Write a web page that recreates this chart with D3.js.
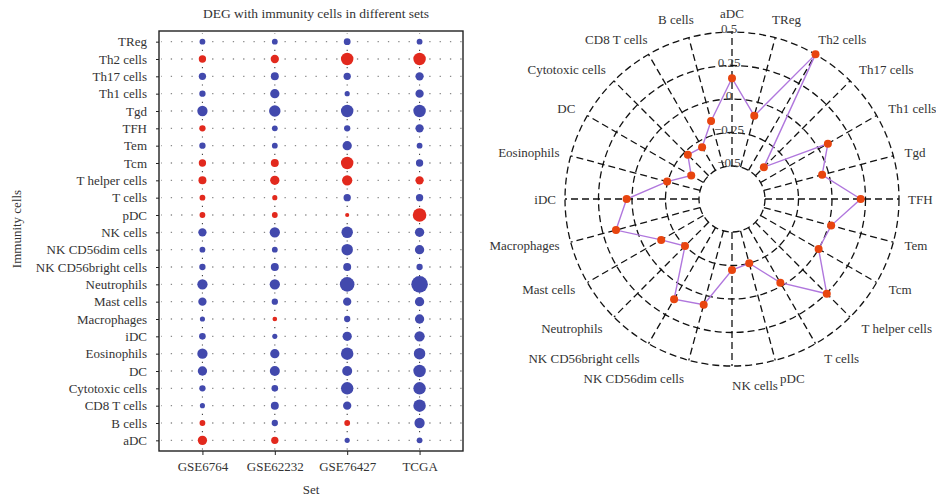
<!DOCTYPE html>
<html>
<head>
<meta charset="utf-8">
<script src="https://cdn.jsdelivr.net/npm/d3@7"></script>
<style>
  body { margin: 0; background: #fff; }
  svg { font-family: "Liberation Serif", "DejaVu Serif", serif; }
  .axis path { display: none; }
  .axis line { stroke: #222; }
  .axis text { font-size: 13px; fill: #333; font-family: "Liberation Serif", serif; }
</style>
</head>
<body>
<svg id="chart" width="936" height="502"></svg>
<script>
// cells, bottom-to-top on the bubble chart, counter-clockwise on the radar
let cells = ['aDC', 'B cells', 'CD8 T cells', 'Cytotoxic cells', 'DC', 'Eosinophils', 'iDC',
	'Macrophages', 'Mast cells', 'Neutrophils', 'NK CD56bright cells', 'NK CD56dim cells',
	'NK cells', 'pDC', 'T cells', 'T helper cells', 'Tcm', 'Tem', 'TFH', 'Tgd', 'Th1 cells',
	'Th17 cells', 'Th2 cells', 'TReg']

let sets = ['GSE6764', 'GSE62232', 'GSE76427', 'TCGA']

// signed association per set, same order as cells (positive = red, negative = blue)
let gse6764 = [0.56, 0.35, -0.31, -0.38, -0.56, -0.62, -0.40, -0.31, -0.50, -0.62, -0.38, -0.35,
	-0.50, 0.35, 0.35, 0.48, 0.44, -0.38, 0.38, -0.62, -0.38, -0.44, 0.44, -0.35]
let gse62232 = [0.44, -0.38, -0.48, -0.40, -0.60, -0.56, -0.31, 0.28, -0.38, -0.62, -0.48, -0.35,
	-0.62, 0.35, 0.31, 0.56, 0.48, -0.35, -0.35, -0.69, -0.56, -0.48, 0.50, -0.35]
let gse76427 = [-0.31, 0.35, -0.50, -0.75, -0.60, -0.75, -0.56, -0.38, -0.50, -0.88, -0.48, -0.69,
	-0.69, 0.25, -0.44, 0.62, 0.75, -0.56, -0.38, -0.75, -0.31, -0.44, 0.75, -0.41]
let tcga = [-0.35, -0.62, -0.75, -0.75, -0.75, -0.69, -0.62, -0.56, -0.56, -1.0, -0.38, -0.56,
	-0.56, 0.82, -0.44, 0.50, -0.44, -0.35, -0.50, -0.75, -0.50, -0.50, 0.75, -0.35]

// radar values, same order as cells
let radarValues = [0.155, -0.143, -0.30, -0.28, -0.395, -0.245, 0.04, 0.15, -0.136, -0.25, 0.118, 0.07,
	-0.216, -0.25, -0.025, 0.254, 0.0, 0.02, 0.214, -0.05, 0.08, -0.41, 0.50, -0.104]
let radarTicks = [-0.5, -0.25, 0, 0.25, 0.5]

let setValues = [gse6764, gse62232, gse76427, tcga]

let svg = d3.select('#chart')

// ---------- bubble chart ----------
let frame = {left: 159, right: 463, top: 31, bottom: 451}
let red = '#e2291d'
let blue = '#4249ad'

let x = d3.scalePoint()
	.domain(sets)
	.range([frame.left, frame.right])
	.padding(0.6)

let y = d3.scalePoint()
	.domain(cells.slice().reverse())
	.range([frame.top, frame.bottom])
	.padding(0.615)

let rScale = d3.scaleLinear()
	.domain([0, 1])
	.range([0, 8.3])

let grid = svg.append('g').attr('class', 'grid')

let hStep = x.step() / 7
let hStart = x(sets[0]) - Math.floor((x(sets[0]) - frame.left) / hStep) * hStep

grid.selectAll('.hgrid')
	.data(cells)
	.enter()
	.append('line')
	.attr('x1', hStart)
	.attr('x2', frame.right)
	.attr('y1', d => y(d))
	.attr('y2', d => y(d))
	.attr('stroke', '#8a8a8a')
	.attr('stroke-width', 1.3)
	.attr('stroke-dasharray', `1.3,${hStep - 1.3}`)
	.attr('stroke-dashoffset', 0.65)

let vStep = y.step() / 2
let vStart = y(cells[cells.length - 1]) - Math.floor((y(cells[cells.length - 1]) - frame.top) / vStep) * vStep

grid.selectAll('.vgrid')
	.data(sets)
	.enter()
	.append('line')
	.attr('x1', d => x(d))
	.attr('x2', d => x(d))
	.attr('y1', vStart)
	.attr('y2', frame.bottom)
	.attr('stroke', '#444')
	.attr('stroke-width', 1.1)
	.attr('stroke-dasharray', `1.2,${vStep - 1.2}`)
	.attr('stroke-dashoffset', 0.6)

let bubbles = []
sets.forEach((s, i) => {
	cells.forEach((c, j) => {
		bubbles.push({set: s, cell: c, value: setValues[i][j]})
	})
})

svg.append('g')
	.selectAll('circle')
	.data(bubbles)
	.enter()
	.append('circle')
	.attr('cx', d => x(d.set))
	.attr('cy', d => y(d.cell))
	.attr('r', d => rScale(Math.abs(d.value)))
	.attr('fill', d => d.value > 0 ? red : blue)

svg.append('rect')
	.attr('x', frame.left)
	.attr('y', frame.top)
	.attr('width', frame.right - frame.left)
	.attr('height', frame.bottom - frame.top)
	.attr('fill', 'none')
	.attr('stroke', '#222')
	.attr('stroke-width', 1.4)

svg.append('g')
	.attr('class', 'axis')
	.attr('transform', `translate(${frame.left},0)`)
	.call(d3.axisLeft(y).tickSize(3).tickPadding(9))

svg.append('g')
	.attr('class', 'axis')
	.attr('transform', `translate(0,${frame.bottom})`)
	.call(d3.axisBottom(x).tickSize(4).tickPadding(7))

svg.append('text')
	.text('DEG with immunity cells in different sets')
	.attr('x', (frame.left + frame.right) / 2 + 5)
	.attr('y', 18)
	.attr('text-anchor', 'middle')
	.attr('font-size', 13.5)
	.attr('fill', '#333')

svg.append('text')
	.text('Set')
	.attr('x', (frame.left + frame.right) / 2)
	.attr('y', 494)
	.attr('text-anchor', 'middle')
	.attr('font-size', 13)
	.attr('fill', '#333')

svg.append('text')
	.text('Immunity cells')
	.attr('transform', 'translate(21,229) rotate(-90)')
	.attr('text-anchor', 'middle')
	.attr('font-size', 13)
	.attr('fill', '#333')

// ---------- radar chart ----------
let cx = 732
let cy = 199
let n = cells.length
let angle = i => -i * 2 * Math.PI / n

let radial = d3.scaleLinear()
	.domain([-0.5, 0.5])
	.range([33, 167])

let radar = svg.append('g')
	.attr('transform', `translate(${cx},${cy})`)

radar.selectAll('.ring')
	.data(radarTicks)
	.enter()
	.append('circle')
	.attr('r', d => radial(d))
	.attr('fill', 'none')
	.attr('stroke', '#111')
	.attr('stroke-width', 1.3)
	.attr('stroke-dasharray', '7,4')

radar.selectAll('.spoke')
	.data(cells)
	.enter()
	.append('line')
	.attr('x1', (d, i) => radial(-0.5) * Math.sin(angle(i)))
	.attr('y1', (d, i) => -radial(-0.5) * Math.cos(angle(i)))
	.attr('x2', (d, i) => radial(0.5) * Math.sin(angle(i)))
	.attr('y2', (d, i) => -radial(0.5) * Math.cos(angle(i)))
	.attr('stroke', '#111')
	.attr('stroke-width', 1.3)
	.attr('stroke-dasharray', '7,4')

let fmt = d3.format('~g')
radar.selectAll('.rtick')
	.data(radarTicks)
	.enter()
	.append('text')
	.text(d => fmt(d))
	.attr('x', -3)
	.attr('y', d => -radial(d) + 1)
	.attr('text-anchor', 'middle')
	.attr('font-size', 13)
	.attr('fill', '#444')

let radarLine = d3.lineRadial()
	.angle((d, i) => angle(i))
	.radius(d => radial(d))
	.curve(d3.curveLinearClosed)

radar.append('path')
	.attr('d', radarLine(radarValues))
	.attr('fill', 'none')
	.attr('stroke', '#b077dd')
	.attr('stroke-width', 1.4)

radar.selectAll('.rdot')
	.data(radarValues)
	.enter()
	.append('circle')
	.attr('cx', (d, i) => radial(d) * Math.sin(angle(i)))
	.attr('cy', (d, i) => -radial(d) * Math.cos(angle(i)))
	.attr('r', 4)
	.attr('fill', '#e8450f')

// labels sit further out near the vertical axis, closer in at the sides
let labelR = i => 176 + 10 * Math.abs(Math.cos(angle(i)))

let labels = radar.selectAll('.rlabel')
	.data(cells)
	.enter()
	.append('text')
	.text(d => d)
	.attr('y', (d, i) => -labelR(i) * Math.cos(angle(i)))
	.attr('dy', '0.35em')
	.attr('font-size', 13)
	.attr('fill', '#333')
	.attr('text-anchor', (d, i) => {
		let s = Math.sin(angle(i))
		if (i === 0) return 'middle'
		if (Math.abs(s) < 0.01) return 'start'
		return s > 0 ? 'start' : 'end'
	})

// upper labels slide toward the vertical axis as they get closer to it
labels.attr('x', function(d, i) {
	let s = Math.sin(angle(i))
	let base = labelR(i) * s
	if (i === 0 || Math.cos(angle(i)) <= 0) return base
	let w = this.getComputedTextLength()
	let f = Math.pow(1 - Math.abs(s), 2) / 2
	return s > 0 ? base - f * w : base + f * w
})
</script>
</body>
</html>
